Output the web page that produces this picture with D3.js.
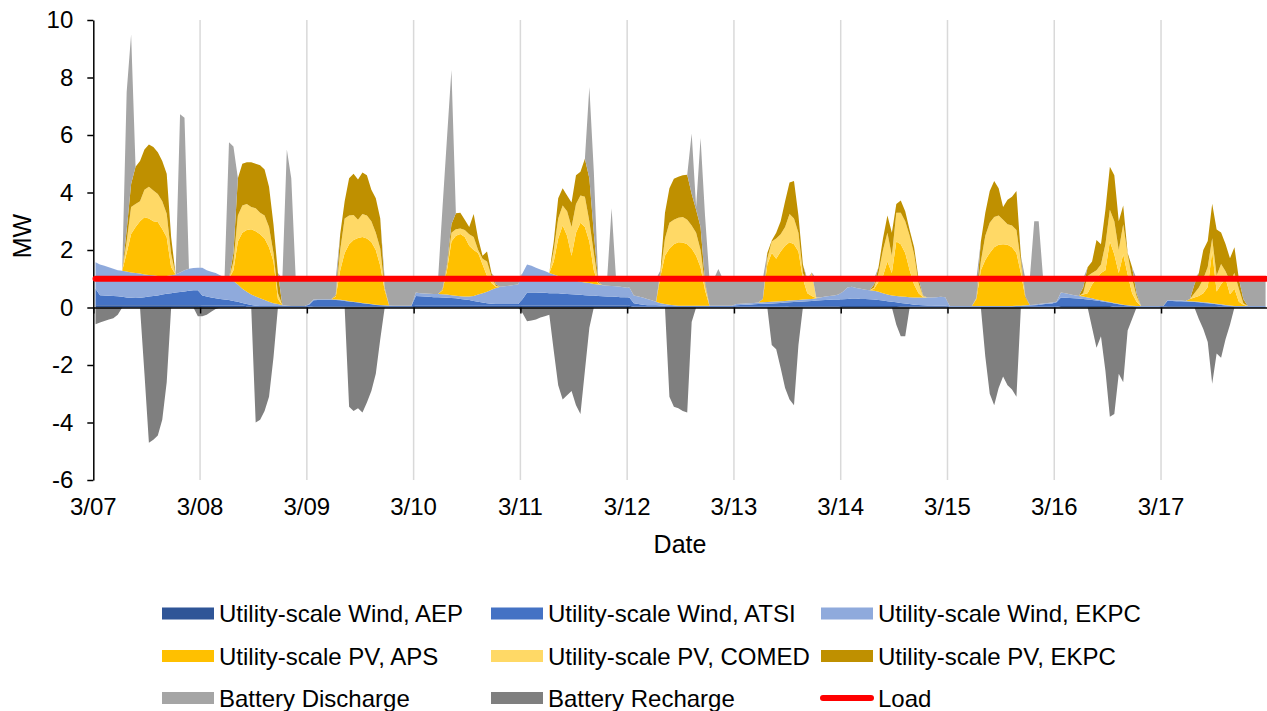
<!DOCTYPE html>
<html>
<head>
<meta charset="utf-8">
<script src="https://cdn.jsdelivr.net/npm/d3@7/dist/d3.min.js"></script>
<style>
  body { margin: 0; background: #ffffff; }
  svg text { font-family: "Liberation Sans", Arial, sans-serif; fill: #000; }
</style>
</head>
<body>
<script>
// Hourly values, 3/07 00:00 to 3/17 23:00 (one line per day, 24 values)
const HOURS = 264;
const dayLabels = ["3/07", "3/08", "3/09", "3/10", "3/11", "3/12", "3/13", "3/14", "3/15", "3/16", "3/17"];
const yTicks = [-6, -4, -2, 0, 2, 4, 6, 8, 10];
const loadMW = 1;

const windAEP = [
  0.08,0.08,0.08,0.08,0.08,0.08,0.08,0.08,0.08,0.08,0.08,0.08,0.08,0.08,0.08,0.08,0.08,0.08,0.08,0.08,0.08,0.08,0.08,0.08,
  0.07,0.07,0.07,0.07,0.07,0.07,0.07,0.07,0.07,0.07,0.04,0.04,0.04,0.04,0.04,0.04,0.04,0.04,0.04,0.04,0.04,0.04,0.04,0.04,
  0.03,0.04,0.04,0.04,0.04,0.04,0.04,0.04,0.04,0.04,0.04,0.04,0.04,0.04,0.04,0.04,0.04,0.04,0.04,0.04,0.04,0.04,0.04,0.04,
  0.06,0.06,0.06,0.06,0.06,0.06,0.06,0.06,0.06,0.06,0.06,0.06,0.06,0.06,0.06,0.06,0.06,0.06,0.06,0.06,0.06,0.06,0.06,0.06,
  0.07,0.07,0.07,0.07,0.07,0.07,0.07,0.07,0.07,0.07,0.07,0.07,0.07,0.07,0.07,0.07,0.07,0.07,0.07,0.07,0.07,0.07,0.07,0.07,
  0.06,0.03,0.03,0.03,0.03,0.03,0.03,0.03,0.03,0.03,0.03,0.03,0.03,0.03,0.03,0.03,0.03,0.03,0.03,0.03,0.03,0.03,0.03,0.03,
  0.03,0.03,0.03,0.03,0.03,0.03,0.03,0.03,0.03,0.03,0.03,0.03,0.04,0.04,0.04,0.04,0.04,0.04,0.04,0.04,0.04,0.04,0.04,0.04,
  0.05,0.05,0.05,0.05,0.05,0.05,0.05,0.05,0.05,0.05,0.05,0.05,0.05,0.04,0.04,0.04,0.04,0.04,0.04,0.04,0.04,0.04,0.04,0.04,
  0.03,0.03,0.03,0.03,0.03,0.03,0.03,0.03,0.03,0.03,0.03,0.03,0.03,0.03,0.03,0.03,0.03,0.03,0.03,0.03,0.03,0.03,0.03,0.03,
  0.03,0.05,0.05,0.05,0.05,0.05,0.05,0.05,0.05,0.05,0.05,0.05,0.05,0.03,0.03,0.03,0.03,0.03,0.03,0.03,0.03,0.03,0.03,0.03,
  0.03,0.04,0.04,0.04,0.04,0.04,0.04,0.04,0.04,0.04,0.04,0.04,0.04,0.03,0.03,0.03,0.03,0.03,0.03,0.03,0.03,0.03,0.03,0.03
];

const windATSI = [
  0.57,0.35,0.34,0.33,0.32,0.31,0.29,0.27,0.26,0.25,0.26,0.28,0.30,0.32,0.34,0.37,0.40,0.42,0.44,0.46,0.48,0.50,0.52,0.52,
  0.35,0.31,0.28,0.25,0.23,0.21,0.19,0.16,0.13,0.09,0.08,0.05,0.02,0.01,0.01,0.01,0.01,0.01,0.01,0.01,0.01,0.01,0.01,0.01,
  0.07,0.21,0.22,0.22,0.22,0.22,0.22,0.21,0.19,0.17,0.15,0.13,0.11,0.09,0.07,0.05,0.04,0.03,0.02,0.01,0.01,0.01,0.01,0.01,
  0.34,0.33,0.32,0.31,0.30,0.30,0.29,0.28,0.27,0.26,0.24,0.22,0.20,0.17,0.14,0.11,0.09,0.07,0.06,0.06,0.06,0.06,0.06,0.06,
  0.23,0.45,0.45,0.45,0.44,0.44,0.43,0.43,0.43,0.41,0.40,0.39,0.38,0.37,0.36,0.35,0.35,0.33,0.32,0.31,0.31,0.30,0.29,0.29,
  0.29,0.12,0.09,0.07,0.05,0.05,0.05,0.04,0.03,0.02,0.02,0.02,0.02,0.02,0.02,0.02,0.02,0.02,0.02,0.02,0.02,0.02,0.02,0.02,
  0.05,0.06,0.07,0.07,0.08,0.09,0.10,0.10,0.11,0.12,0.13,0.14,0.14,0.15,0.16,0.17,0.18,0.19,0.20,0.21,0.22,0.23,0.24,0.24,
  0.24,0.25,0.26,0.26,0.25,0.25,0.24,0.23,0.21,0.19,0.17,0.15,0.13,0.12,0.10,0.08,0.06,0.05,0.04,0.03,0.03,0.02,0.02,0.02,
  0.01,0.01,0.01,0.01,0.01,0.01,0.01,0.01,0.01,0.01,0.01,0.01,0.01,0.01,0.01,0.02,0.02,0.03,0.04,0.05,0.06,0.08,0.10,0.11,
  0.15,0.30,0.29,0.28,0.27,0.26,0.25,0.23,0.21,0.19,0.17,0.14,0.12,0.11,0.08,0.06,0.04,0.02,0.01,0.01,0.01,0.01,0.01,0.01,
  0.02,0.20,0.19,0.18,0.18,0.17,0.16,0.15,0.14,0.12,0.11,0.09,0.07,0.06,0.04,0.02,0.01,0.01,0.01,0.01,0.01,0.01,0.01,0.01
];

const windEKPC = [
  0.92,1.07,1.03,0.99,0.95,0.91,0.91,0.90,0.88,0.87,0.84,0.79,0.75,0.72,0.68,0.65,0.62,0.62,0.63,0.68,0.74,0.77,0.77,0.78,
  0.96,0.92,0.89,0.88,0.82,0.77,0.74,0.69,0.60,0.49,0.43,0.36,0.32,0.27,0.21,0.15,0.10,0.07,0.03,0.01,0,0,0,0,
  0.02,0.03,0.03,0.03,0.03,0.03,0.02,0.02,0.02,0.01,0.01,0.01,0.01,0.01,0.01,0.01,0.01,0.01,0.01,0.01,0.01,0.01,0.01,0.01,
  0.12,0.11,0.11,0.11,0.11,0.11,0.11,0.11,0.10,0.09,0.09,0.10,0.12,0.17,0.25,0.33,0.40,0.49,0.56,0.60,0.62,0.64,0.66,0.68,
  0.90,0.98,0.93,0.86,0.81,0.76,0.70,0.65,0.60,0.57,0.53,0.51,0.48,0.46,0.44,0.43,0.40,0.40,0.38,0.38,0.37,0.37,0.36,0.34,
  0.35,0.27,0.26,0.25,0.22,0.17,0.12,0.08,0.06,0.05,0.03,0.01,0.01,0.01,0.01,0.01,0.01,0.01,0.01,0.01,0.01,0.01,0.01,0.01,
  0.04,0.04,0.04,0.05,0.05,0.05,0.05,0.06,0.06,0.06,0.06,0.06,0.06,0.06,0.06,0.07,0.07,0.07,0.08,0.10,0.12,0.13,0.14,0.17,
  0.26,0.40,0.41,0.37,0.35,0.32,0.31,0.30,0.29,0.26,0.23,0.22,0.22,0.22,0.23,0.24,0.25,0.26,0.27,0.28,0.28,0.30,0.31,0.30,
  0.01,0.01,0.01,0.01,0.01,0.01,0.01,0.01,0.01,0.01,0.01,0.01,0.01,0.01,0.01,0.01,0.01,0.02,0.02,0.02,0.03,0.03,0.03,0.03,
  0.02,0.17,0.16,0.13,0.11,0.09,0.08,0.07,0.06,0.04,0.03,0.03,0.02,0.02,0.02,0.01,0.01,0.01,0.01,0.01,0.01,0.01,0.01,0.01,
  0,0.02,0.02,0.02,0.02,0.02,0.02,0.02,0.02,0.02,0.02,0.02,0.02,0.02,0.02,0.02,0.01,0.01,0.01,0.01,0.01,0.01,0.01,0.01
];

const pvAPS = [
  0,0,0,0,0,0,0,0.65,1.34,1.60,1.82,1.99,1.97,1.88,1.87,1.63,1.34,0.28,0,0,0,0,0,0,
  0,0,0,0,0,0,0,0.38,1.50,1.95,2.15,2.27,2.27,2.23,2.14,1.90,1.45,0.18,0,0,0,0,0,0,
  0,0,0,0,0,0,0.10,1.03,1.65,1.98,2.15,2.24,2.29,2.26,2.16,1.90,1.36,0.52,0,0,0,0,0,0,
  0,0,0,0,0,0,0.14,0.85,1.87,2.09,2.17,2.07,1.77,1.60,1.45,1.00,0.55,0.23,0.04,0,0,0,0,0,
  0,0,0,0,0,0,0,0.45,1.30,1.80,1.50,0.83,1.67,2.05,1.93,1.45,0.48,0.02,0,0,0,0,0,0,
  0,0,0,0,0,0,0,0.95,1.68,1.95,2.12,2.21,2.20,2.14,1.99,1.74,1.34,0.54,0,0,0,0,0,0,
  0,0,0,0,0,0,0.12,1.31,1.70,1.49,1.73,1.92,2.03,1.95,1.69,0.72,0.21,0.10,0.01,0,0,0,0,0,
  0,0,0,0,0,0,0,0.07,0.35,0.60,1.15,0.78,1.90,1.82,1.53,0.94,0.45,0.15,0.01,0,0,0,0,0,
  0,0,0,0,0,0,0.25,1.25,1.60,1.85,2.05,2.13,2.15,2.13,2.05,1.84,1.13,0.27,0,0,0,0,0,0,
  0,0,0,0,0,0,0.07,0.15,0.48,0.72,0.95,1.08,2.11,1.69,1.07,1.75,1.07,0.44,0.15,0,0,0,0,0,
  0,0,0,0,0,0,0.08,0.14,0.20,0.32,0.54,1.81,0.43,0.70,0.92,0.39,0.60,0.15,0.05,0,0,0,0,0
];

const pvCOMED = [
  0,0,0,0,0,0,0,0.40,0.94,0.80,0.70,0.96,1.10,1.07,0.98,0.97,0.82,0.46,0,0,0,0,0,0,
  0,0,0,0,0,0,0,0.30,0.90,0.95,0.90,0.78,0.80,0.75,0.80,0.70,0.30,0.20,0,0,0,0,0,0,
  0,0,0,0,0,0,0.03,0.70,1.20,1.00,0.87,0.63,0.80,0.80,0.72,0.60,0.60,0.05,0,0,0,0,0,0,
  0,0,0,0,0,0,0.02,0.10,0.30,0.22,0.19,0.25,0.40,0.45,0.10,0.20,0.50,0.25,0.03,0,0,0,0,0,
  0,0,0,0,0,0,0,0.40,0.70,0.70,0.85,1.00,1.00,0.95,1.05,0.70,0.60,0.03,0,0,0,0,0,0,
  0,0,0,0,0,0,0,0.10,0.60,0.90,0.85,0.85,0.89,0.85,0.80,0.80,0.60,0.20,0,0,0,0,0,0,
  0,0,0,0,0,0,0,0.20,0.40,0.70,0.60,0.65,0.98,0.90,0.65,0.20,0.40,0.80,0.02,0,0,0,0,0,
  0,0,0,0,0,0,0,0.05,0.30,0.90,1.00,0.60,1.00,1.10,1.10,1.20,1.05,0.35,0.04,0,0,0,0,0,
  0,0,0,0,0,0,0.02,0.30,0.85,1.05,1.05,1.02,0.85,0.72,0.75,0.80,0.40,0,0,0,0,0,0,0,
  0,0,0,0,0,0,0.05,0.60,0.40,0.30,0.30,0.90,1.10,1.15,0.80,1.05,0.70,0.50,0.20,0,0,0,0,0,
  0,0,0,0,0,0,0,0.15,0.30,0.50,0.70,0.45,0.55,0.70,0.25,0.45,0.55,0.45,0.05,0,0,0,0,0
];

const pvEKPC = [
  0,0,0,0,0,0,0,0.40,0.80,1.30,1.40,1.40,1.47,1.51,1.45,1.40,1.39,0.58,0,0,0,0,0,0,
  0,0,0,0,0,0,0,0.30,1.30,1.45,1.45,1.55,1.55,1.65,1.60,1.40,1.00,0.70,0,0,0,0,0,0,
  0,0,0,0,0,0,0.03,0.56,0.60,1.30,1.43,1.40,1.45,1.40,1.10,1.20,1.05,0.05,0,0,0,0,0,0,
  0,0,0,0,0,0,0.02,0.10,0.30,0.56,0.55,0.35,0.25,0.80,0.40,0.10,0.35,0.10,0.05,0,0,0,0,0,
  0,0,0,0,0,0,0,0.30,0.70,0.60,0.55,0.85,1.00,0.82,1.32,1.50,0.70,0.05,0,0,0,0,0,0,
  0,0,0,0,0,0,0,0.10,0.90,1.20,1.43,1.43,1.45,1.57,1.10,0.80,0.80,0.10,0,0,0,0,0,0,
  0,0,0,0,0,0,0,0.20,0.03,0.20,0.45,0.90,1.10,1.30,0.60,0.30,0,0.02,0,0,0,0,0,0,
  0,0,0,0,0,0,0,0.10,0.20,0.40,0.60,0.80,0.30,0.42,0.35,0.20,0.25,0.15,0.02,0,0,0,0,0,
  0,0,0,0,0,0,0.02,0.70,0.80,1.10,1.25,0.95,0.45,0.85,1.00,1.35,0.20,0.05,0,0,0,0,0,0,
  0,0,0,0,0,0,0.20,0.30,0.40,1.05,0.70,1.20,1.50,1.60,1.00,0.65,0.05,0.40,0.10,0,0,0,0,0,
  0,0,0,0,0,0,0,0.30,0.50,1.00,0.90,1.20,1.60,1.10,0.95,0.80,0.90,0.35,0.15,0,0,0,0,0
];

const batteryDischarge = [
  0,0,0,0,0,0,0,4.80,5.20,0,0,0,0,0,0,0,0,0,0,5.50,5.30,0,0,0,
  0,0,0,0,0,0,4.75,3.70,0,0,0,0,0,0,0,0,0,0,0.92,5.44,4.45,0.95,0.95,0.95,
  0.88,0.72,0.71,0.71,0.71,0.71,0.56,0,0,0,0,0,0,0,0,0,0,0.30,0.93,0.94,0.94,0.94,0.94,0.94,
  0.48,0.50,0.51,0.52,0.53,0.53,2.86,4.40,5.36,0,0,0,0,0,0,0,0,0,0.20,0.28,0.26,0.24,0.22,0.20,
  0,0,0,0,0,0,0,0,0,0,0,0,0,0,0,3.17,2.15,0.10,0.23,0.24,2.70,0.26,0.28,0.30,
  0.30,0.58,0.62,0.65,0.70,0.75,0.80,0,0,0,0,0,0,0,2.10,0.10,3.10,2.30,0.94,0.94,1.28,0.94,0.94,0.94,
  0.88,0.87,0.86,0.85,0.84,0.83,0.70,0,0,0,0,0,0,0,0,0,0.10,0,0.65,0.65,0.62,0.60,0.58,0.55,
  0.45,0.30,0.28,0.32,0.35,0.38,0.40,0.20,0,0,0,0,0,0,0,0,0,0,0.58,0.65,0.65,0.64,0.63,0.64,
  0.95,0.95,0.95,0.95,0.95,0.95,0.66,0,0,0,0,0,0,0,0,0,0,0.60,0.91,2.90,2.88,0.86,0.84,0.83,
  0.80,0.48,0.50,0.54,0.57,0.60,0.30,0,0,0,0,0,0,0,0,0,0,0,0.50,0.95,0.95,0.95,0.95,0.95,
  0.95,0.74,0.75,0.76,0.76,0.77,0.70,0.20,0,0,0,0,0,0,0,0,0,0,0.70,0.95,0.95,0.95,0.95,0.95
];

const batteryRecharge = [
  -0.58,-0.52,-0.47,-0.42,-0.37,-0.25,0,0,0,0,0,-2.3,-4.7,-4.6,-4.45,-3.9,-2.6,0,0,0,0,0,0,-0.3,
  -0.3,-0.25,-0.15,-0.05,0,0,0,0,0,0,0,0,-4.0,-3.9,-3.6,-3.1,-1.74,0,0,0,0,0,0,0,
  0,0,0,0,0,0,0,0,0,-3.45,-3.6,-3.5,-3.65,-3.3,-2.9,-2.3,-1.1,0,0,0,0,0,0,0,
  0,0,0,0,0,0,0,0,0,0,0,0,0,0,0,0,0,0,0,0,0,0,0,0,
  -0.2,-0.48,-0.45,-0.42,-0.35,-0.3,-0.25,-1.5,-2.7,-3.2,-3.05,-2.9,-3.4,-3.7,-2.2,-0.7,0,0,0,0,0,0,0,0,
  0,0,0,0,0,0,0,0,0,-3.1,-3.45,-3.5,-3.6,-3.65,-0.5,0,0,0,0,0,0,0,0,0,
  0,0,0,0,0,0,0,0,-1.3,-1.45,-2.1,-2.8,-3.2,-3.4,-1.3,0,0,0,0,0,0,0,0,0,
  0,0,0,0,0,0,0,0,0,0,0,0,-0.6,-1.0,-1.0,0,0,0,0,0,0,0,0,0,
  0,0,0,0,0,0,0,0,-1.7,-3.0,-3.4,-2.8,-2.4,-2.7,-2.85,-3.1,0,0,0,0,0,0,0,0,
  0,0,0,0,0,0,0,0,-0.7,-1.4,-1.0,-2.2,-3.8,-3.7,-2.3,-2.6,-0.8,-0.4,0,0,0,0,0,0,
  0,0,0,0,0,0,0,0,-0.4,-0.75,-1.2,-2.65,-1.6,-1.75,-1.1,-0.6,0,0,0,0,0,0,0,0
];

const seriesNames = {
  windAEP: "Utility-scale Wind, AEP",
  windATSI: "Utility-scale Wind, ATSI",
  windEKPC: "Utility-scale Wind, EKPC",
  pvAPS: "Utility-scale PV, APS",
  pvCOMED: "Utility-scale PV, COMED",
  pvEKPC: "Utility-scale PV, EKPC",
  discharge: "Battery Discharge",
  recharge: "Battery Recharge",
  load: "Load"
};

const colors = {
  windAEP: "#2f5597",
  windATSI: "#4472c4",
  windEKPC: "#8faadc",
  pvAPS: "#ffc000",
  pvCOMED: "#ffd966",
  pvEKPC: "#bf9000",
  discharge: "#a5a5a5",
  recharge: "#7f7f7f",
  load: "#ff0000"
};

//Revisa que cada serie tenga todas las horas
const allSeries = {windAEP, windATSI, windEKPC, pvAPS, pvCOMED, pvEKPC, batteryDischarge, batteryRecharge};
Object.keys(allSeries).forEach(function(k) {
  if (allSeries[k].length !== HOURS) throw new Error(k + " has " + allSeries[k].length + " values");
});

const width = 1267, height = 711;
const svg = d3.select("body").append("svg")
  .attr("width", width)
  .attr("height", height);

const x = d3.scaleLinear().domain([0, HOURS]).range([93.3, 1267.8]);
const y = d3.scaleLinear().domain([-6, 10]).range([480, 20]);

//Líneas verticales de cada día
svg.append("g")
  .selectAll("line")
  .data(d3.range(1, dayLabels.length + 1))
  .join("line")
  .attr("x1", d => x(d * 24))
  .attr("x2", d => x(d * 24))
  .attr("y1", y(10))
  .attr("y2", y(-6))
  .attr("stroke", "#d9d9d9")
  .attr("stroke-width", 1.5);

//Áreas apiladas positivas
const rows = d3.range(HOURS).map(i => ({
  hour: i,
  windAEP: windAEP[i],
  windATSI: windATSI[i],
  windEKPC: windEKPC[i],
  pvAPS: pvAPS[i],
  pvCOMED: pvCOMED[i],
  pvEKPC: pvEKPC[i],
  discharge: batteryDischarge[i]
}));
const stackKeys = ["windAEP", "windATSI", "windEKPC", "pvAPS", "pvCOMED", "pvEKPC", "discharge"];
const stacked = d3.stack().keys(stackKeys)(rows);

const area = d3.area()
  .x(d => x(d.data.hour + 0.5))
  .y0(d => y(d[0]))
  .y1(d => y(d[1]));

svg.append("g")
  .selectAll("path")
  .data(stacked)
  .join("path")
  .attr("fill", d => colors[d.key])
  .attr("d", area);

//Recarga de batería (negativa)
const rechargeArea = d3.area()
  .x((d, i) => x(i + 0.5))
  .y0(y(0))
  .y1(d => y(d));

svg.append("path")
  .datum(batteryRecharge)
  .attr("fill", colors.recharge)
  .attr("d", rechargeArea);

//Eje x sobre el cero
svg.append("g")
  .attr("transform", "translate(0," + y(0) + ")")
  .call(d3.axisBottom(x).tickValues(d3.range(0, HOURS, 24)).tickSize(6).tickSizeOuter(0).tickFormat(""))
  .call(g => g.selectAll("path, line").attr("stroke", "#000").attr("stroke-width", 1.5));

//Etiquetas de fecha abajo
svg.append("g")
  .selectAll("text")
  .data(dayLabels)
  .join("text")
  .attr("x", (d, i) => x(i * 24))
  .attr("y", 515)
  .attr("text-anchor", "middle")
  .attr("font-size", 24)
  .text(d => d);

//Eje y (guion simple como signo negativo)
svg.append("g")
  .attr("transform", "translate(" + x(0) + ",0)")
  .call(d3.axisLeft(y).tickValues(yTicks).tickSize(6).tickPadding(14).tickSizeOuter(0)
    .tickFormat(d => String(d)))
  .call(g => g.selectAll("path, line").attr("stroke", "#000").attr("stroke-width", 1.5))
  .call(g => g.selectAll("text")
    .attr("font-size", 24)
    .attr("font-family", "Liberation Sans, Arial, sans-serif")
    .attr("fill", "#000"));

//Línea de carga
const loadLine = d3.line()
  .x(d => x(d + 0.5))
  .y(() => y(loadMW));

svg.append("path")
  .datum(d3.range(HOURS))
  .attr("fill", "none")
  .attr("stroke", colors.load)
  .attr("stroke-width", 6)
  .attr("stroke-linecap", "round")
  .attr("d", loadLine);

//Títulos de ejes
svg.append("text")
  .attr("transform", "translate(31,236) rotate(-90)")
  .attr("text-anchor", "middle")
  .attr("font-size", 25)
  .text("MW");

svg.append("text")
  .attr("x", 680)
  .attr("y", 553)
  .attr("text-anchor", "middle")
  .attr("font-size", 25)
  .text("Date");

//Leyenda
const legendKeys = [
  "windAEP", "windATSI", "windEKPC",
  "pvAPS", "pvCOMED", "pvEKPC",
  "discharge", "recharge", "load"
];
const legendCols = [162, 491, 821];
const legendRows = [613.5, 656, 698];

const legend = svg.append("g")
  .selectAll("g")
  .data(legendKeys)
  .join("g")
  .attr("transform", (d, i) => "translate(" + legendCols[i % 3] + "," + legendRows[Math.floor(i / 3)] + ")");

legend.filter(d => d !== "load")
  .append("rect")
  .attr("x", 0)
  .attr("y", -6)
  .attr("width", 52)
  .attr("height", 12)
  .attr("fill", d => colors[d]);

legend.filter(d => d === "load")
  .append("line")
  .attr("x1", 2)
  .attr("x2", 50)
  .attr("stroke", colors.load)
  .attr("stroke-width", 6)
  .attr("stroke-linecap", "round");

legend.append("text")
  .attr("x", 57)
  .attr("y", 8.5)
  .attr("font-size", 24)
  .text(d => seriesNames[d]);
</script>
</body>
</html>
